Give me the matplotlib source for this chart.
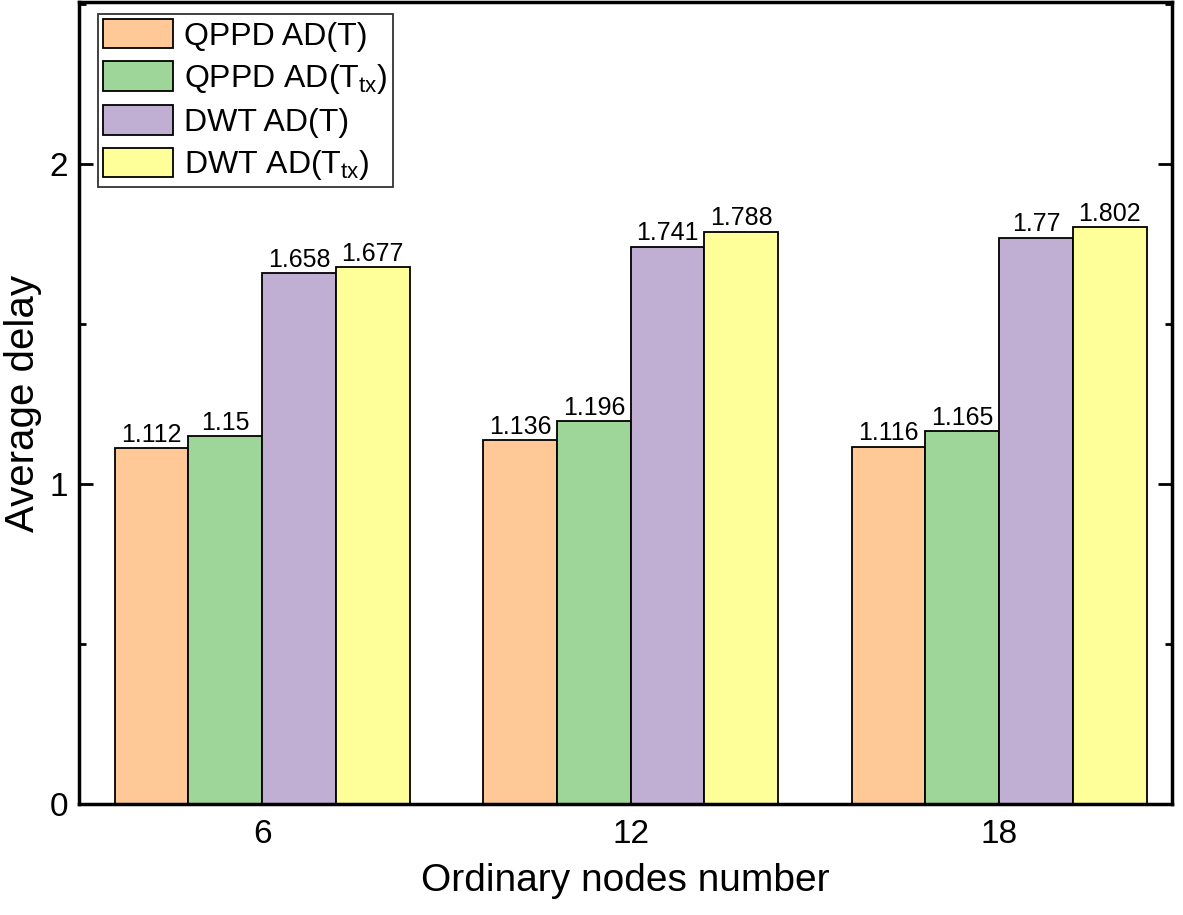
import matplotlib
matplotlib.use("Agg")
import matplotlib.pyplot as plt
import numpy as np
from matplotlib.ticker import MultipleLocator

plt.rcParams['font.family'] = ['Liberation Sans', 'DejaVu Sans']
plt.rcParams['mathtext.fontset'] = 'custom'
plt.rcParams['mathtext.rm'] = 'Liberation Sans'
plt.rcParams['mathtext.it'] = 'Liberation Sans'

NODES = ['6', '12', '18']
SERIES = [
    r'QPPD AD(T)',
    r'QPPD AD(T$_{\mathrm{tx}}$)',
    r'DWT AD(T)',
    r'DWT AD(T$_{\mathrm{tx}}$)',
]
QPPD_T = [1.112, 1.136, 1.116]
QPPD_TTX = [1.15, 1.196, 1.165]
DWT_T = [1.658, 1.741, 1.77]
DWT_TTX = [1.677, 1.788, 1.802]
COLORS = ['#FFC896', '#9ED69A', '#C0AFD3', '#FFFF99']

values = [QPPD_T, QPPD_TTX, DWT_T, DWT_TTX]
labels = [['1.112', '1.136', '1.116'], ['1.15', '1.196', '1.165'],
          ['1.658', '1.741', '1.77'], ['1.677', '1.788', '1.802']]

fig = plt.figure(figsize=(11.83, 9.15), dpi=100)
ax = fig.add_axes([0.0668, 0.1213, 0.9239, 0.8765])

x = np.arange(len(NODES))
width = 0.2
for i, (vals, name, color) in enumerate(zip(values, SERIES, COLORS)):
    pos = x + (i - 1.5) * width
    bars = ax.bar(pos, vals, width, color=color, edgecolor='black',
                  linewidth=1.3, label=name, zorder=2)
    ax.bar_label(bars, labels=labels[i], padding=1, fontsize=18)

ax.set_xlim(-0.497, 2.469)
ax.set_ylim(0, 2.506)
ax.set_xticks(x)
ax.set_xticklabels(NODES)
ax.yaxis.set_major_locator(MultipleLocator(1))
ax.yaxis.set_minor_locator(MultipleLocator(0.5))
ax.tick_params(axis='both', which='major', direction='in', length=10,
               width=2, labelsize=24, right=True, pad=8)
ax.tick_params(axis='y', which='minor', direction='in', length=5,
               width=2, right=True)
ax.tick_params(axis='x', which='major', pad=11)
for s in ax.spines.values():
    s.set_linewidth(2.5)

ax.set_xlabel('Ordinary nodes number', fontsize=28, labelpad=9)
ax.set_ylabel('Average delay', fontsize=29, labelpad=5)

leg = ax.legend(loc='upper left', bbox_to_anchor=(0.0174, 0.985), fontsize=23,
                frameon=True, fancybox=False, edgecolor='black',
                handlelength=2.2, handleheight=1.05, handletextpad=0.35,
                labelspacing=0.3, borderpad=0.15, borderaxespad=0)
leg.get_frame().set_linewidth(1.3)

fig.savefig('out.png', dpi=100)
